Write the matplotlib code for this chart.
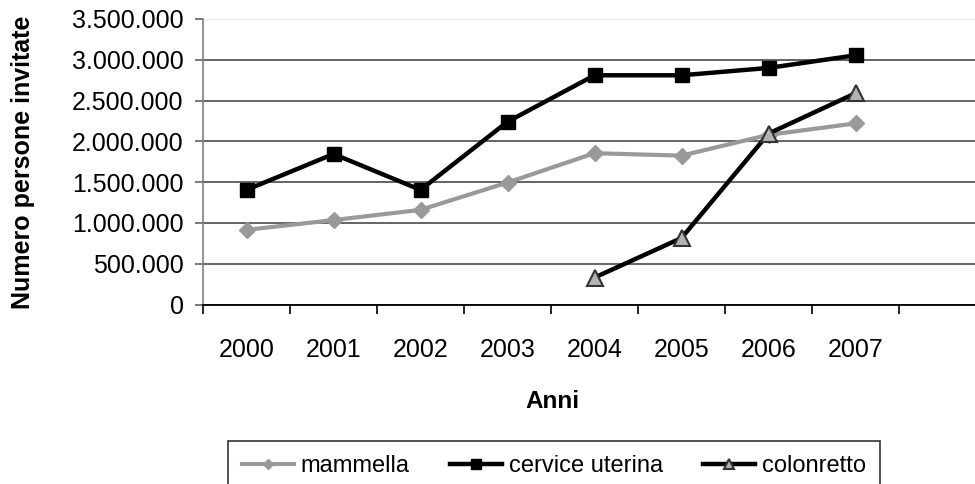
import matplotlib
matplotlib.use("Agg")
import matplotlib.pyplot as plt
from matplotlib.ticker import FuncFormatter, FixedLocator

plt.rcParams['font.family'] = ['Liberation Sans', 'DejaVu Sans']

years = ['2000', '2001', '2002', '2003', '2004', '2005', '2006', '2007']
mammella = [915000, 1035000, 1160000, 1495000, 1855000, 1825000, 2080000, 2220000]
cervice = [1405000, 1845000, 1405000, 2240000, 2810000, 2810000, 2900000, 3055000]
colon_years = ['2004', '2005', '2006', '2007']
colonretto = [330000, 815000, 2095000, 2590000]
y_ticks = [0, 500000, 1000000, 1500000, 2000000, 2500000, 3000000, 3500000]
n_slots = 9

fig = plt.figure(figsize=(9.75, 4.84), dpi=100)
W, H = 975, 484
left_px, right_px, top_px, bot_px = 203, 986, 19, 304.5
ax = fig.add_axes([left_px / W, 1 - bot_px / H, (right_px - left_px) / W, (bot_px - top_px) / H])

xi = list(range(len(years)))
xc = [years.index(y) for y in colon_years]

ax.plot(xi, mammella, color='#999999', lw=3.0, marker='D', ms=8.5,
        mfc='#999999', mec='#999999', label='mammella', zorder=3)
ax.plot(xi, cervice, color='black', lw=3.2, marker='s', ms=10.5,
        mfc='black', mec='black', label='cervice uterina', zorder=4)
ax.plot(xc, colonretto, color='black', lw=3.2, marker='^', ms=11,
        mfc='#b3b3b3', mec='#333333', mew=1.5, label='colonretto', zorder=5)

ax.set_xlim(-0.5, n_slots - 0.5)
ax.set_ylim(0, 3500000)

ax.xaxis.set_major_locator(FixedLocator([i - 0.5 for i in range(n_slots + 1)]))
ax.xaxis.set_major_formatter(FuncFormatter(lambda v, p: ''))
ax.xaxis.set_minor_locator(FixedLocator(xi))
ax.set_xticklabels(years, minor=True)
ax.tick_params(axis='x', which='major', length=6.5, width=1.2, color='black', direction='out')
ax.tick_params(axis='x', which='minor', length=0, pad=24, labelsize=18)

ax.set_yticks(y_ticks)
ax.yaxis.set_major_formatter(FuncFormatter(lambda v, p: f"{int(v):,}".replace(',', '.')))
ax.tick_params(axis='y', length=6, width=1.2, color='#606060', pad=8, labelsize=18)

ax.yaxis.grid(True, color='#3a3a3a', lw=1.1)
ax.get_ygridlines()[-1].set_color('#e6e6e6')
ax.set_axisbelow(True)

for s in ['top', 'right']:
    ax.spines[s].set_visible(False)
ax.spines['left'].set_color('#808080')
ax.spines['left'].set_linewidth(1.2)
ax.spines['bottom'].set_color('black')
ax.spines['bottom'].set_linewidth(1.3)

fig.text(23 / W, 1 - 162 / H, 'Numero persone invitate', rotation=90, fontsize=18,
         fontweight='bold', ha='center', va='center')
fig.text(552 / W, 1 - 401 / H, 'Anni', fontsize=17.5, fontweight='bold',
         ha='center', va='center')

leg = fig.legend(loc='center', bbox_to_anchor=(554 / W, 1 - 466 / H), ncol=3,
                 fontsize=17, frameon=True, fancybox=False, handlelength=2.2,
                 handletextpad=0.3, columnspacing=1.7, borderpad=0.6, borderaxespad=0,
                 markerscale=0.65)
leg.get_frame().set_edgecolor('black')
leg.get_frame().set_linewidth(1.2)

fig.savefig('out.png', dpi=100)
